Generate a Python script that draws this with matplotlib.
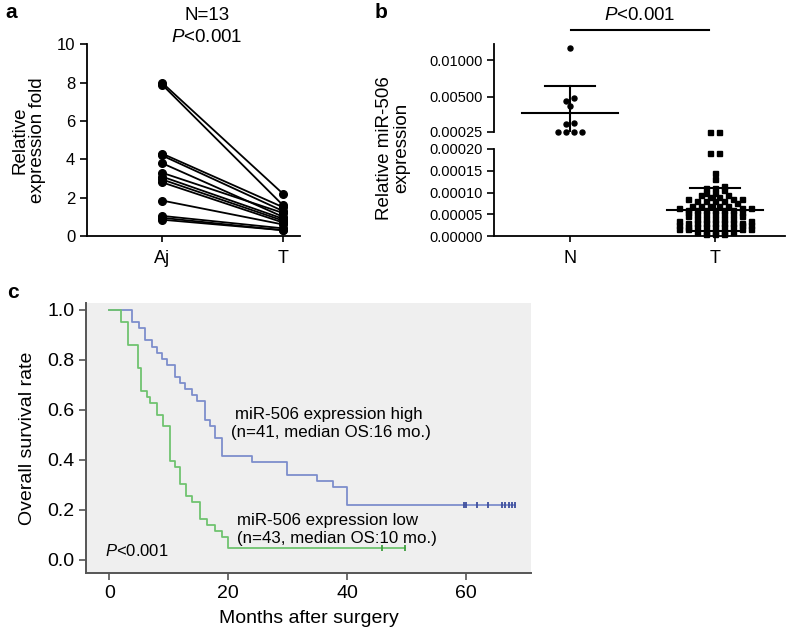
import numpy as np
import matplotlib
matplotlib.use('Agg')
import matplotlib.pyplot as plt

plt.rcParams['font.family'] = ['Liberation Sans', 'DejaVu Sans']
plt.rcParams['mathtext.fontset'] = 'custom'
plt.rcParams['mathtext.it'] = 'Liberation Sans:italic'
plt.rcParams['mathtext.rm'] = 'Liberation Sans'

# ---------------- Panel a data ----------------
pair_groups = ['Aj', 'T']
aj_values = [8.0, 7.9, 4.3, 4.2, 3.8, 3.3, 3.1, 2.95, 2.8, 1.85, 1.05, 0.95, 0.85]
t_values_a = [2.2, 1.6, 1.5, 1.3, 1.0, 1.2, 0.9, 0.8, 0.7, 0.6, 0.4, 0.3, 0.3]
a_yticks = [0, 2, 4, 6, 8, 10]

# ---------------- Panel b data ----------------
b_groups = ['N', 'T']
n_expr = [0.01167, 0.0048, 0.0045, 0.0038, 0.0015, 0.0013, 0.0003, 0.0003, 0.0003, 0.0003]
t_expr_e5 = [25, 25, 19, 19, 14.5, 13,
             11.5, 11, 11, 10.5,
             10, 10, 9.5, 9.5, 9, 9,
             8.5, 8.5, 8.5, 8, 8, 8, 8, 7.5,
             7, 7, 7, 7, 7, 6.5, 6.5, 6.5,
             6, 6, 6, 6, 6, 6, 5.5, 5.5,
             5, 5, 5, 5, 5, 4.5, 4.5,
             4, 4, 4, 4, 4, 3.5, 3.5,
             3, 3, 3, 3, 3, 3, 3, 2.5, 2.5, 2.5,
             2, 2, 2, 2, 2, 2, 1.5, 1.5, 1.5, 1.5,
             1, 1, 1, 1, 1, 0.5, 0.5, 0.5]
t_expr = [v * 1e-5 for v in t_expr_e5]
b_upper_ticks = [0.00025, 0.005, 0.01]
b_upper_labels = ['0.00025', '0.00500', '0.01000']
b_lower_ticks = [0.0, 0.00005, 0.0001, 0.00015, 0.0002]
b_lower_labels = ['0.00000', '0.00005', '0.00010', '0.00015', '0.00020']

# ---------------- Panel c data ----------------
high_times = [3.8, 3.8, 5.0, 6.1, 6.1, 7.2, 8.0, 8.9, 9.7, 11.1, 11.1, 11.9, 12.8,
              13.9, 14.7, 16.1, 16.1, 16.1, 17.0, 17.8, 17.8, 18.9, 18.9, 18.9,
              24.0, 29.9, 29.9, 34.9, 37.7, 40.0, 40.0, 40.0,
              59.7, 60.0, 61.8, 63.7, 66.0, 66.6, 67.2, 67.7, 68.2]
high_events = [1] * 32 + [0] * 9
low_times = [2.0, 2.0, 3.1, 3.1, 3.1, 3.1, 4.9, 4.9, 4.9, 4.9, 5.3, 5.3, 5.3, 5.3,
             6.3, 6.8, 8.0, 8.0, 9.1, 9.1, 10.2, 10.2, 10.2, 10.2, 10.2, 10.2,
             11.0, 11.9, 11.9, 11.9, 12.9, 12.9, 13.9, 15.3, 15.3, 15.3, 16.4,
             17.8, 18.9, 20.0, 20.0,
             45.8, 49.8]
low_events = [1] * 41 + [0] * 2
c_xticks = [0, 20, 40, 60]
c_yticks = [0.0, 0.2, 0.4, 0.6, 0.8, 1.0]

W, H = 790, 635
fig = plt.figure(figsize=(7.9, 6.35), dpi=100)


def rect(l, t, r, b):
    return [l / W, 1 - b / H, (r - l) / W, (b - t) / H]


# ======== Panel a ========
axa = fig.add_axes(rect(87, 44.3, 300, 236))
for a, t in zip(aj_values, t_values_a):
    axa.plot([0, 1], [a, t], color='black', lw=1.3, marker='o', ms=5.5,
             clip_on=False, zorder=3)
axa.set_xlim(-0.62, 1.14)
axa.set_ylim(0, 10)
axa.set_yticks(a_yticks)
axa.set_xticks([0, 1])
axa.set_xticklabels(pair_groups, fontsize=13)
axa.tick_params(axis='y', labelsize=12, length=5, width=1.2)
axa.tick_params(axis='x', length=4, width=1.2, pad=6)
for s in ['top', 'right']:
    axa.spines[s].set_visible(False)
for s in ['left', 'bottom']:
    axa.spines[s].set_linewidth(1.3)
axa.set_ylabel('Relative\nexpression fold', fontsize=13.5, labelpad=8, linespacing=1.0)
fig.text(207 / W, 1 - 16 / H, 'N=13', ha='center', va='center', fontsize=13.5)
fig.text(207 / W, 1 - 38 / H, '$P$<0.001', ha='center', va='center', fontsize=13.5)
fig.text(5 / W, 1 - 12 / H, 'a', fontsize=15, fontweight='bold', va='center')

# ======== Panel b ========
axl = fig.add_axes(rect(494, 149, 785, 236))
axu = fig.add_axes(rect(494, 44, 785, 132))
xl = (-0.524, 1.483)
axl.set_xlim(*xl)
axu.set_xlim(*xl)
axl.set_ylim(0, 0.0002)
axu.set_ylim(0.00025, 0.00025 + 0.00975 * 88 / 72)
for ax in (axl, axu):
    for s in ['top', 'right']:
        ax.spines[s].set_visible(False)
    ax.spines['left'].set_linewidth(1.3)
    ax.patch.set_alpha(0)
axu.spines['bottom'].set_visible(False)
axu.set_xticks([])
axl.spines['bottom'].set_linewidth(1.3)
axl.set_yticks(b_lower_ticks)
axl.set_yticklabels(b_lower_labels)
axu.set_yticks(b_upper_ticks)
axu.set_yticklabels(b_upper_labels)
axl.set_xticks([0, 1])
axl.set_xticklabels(b_groups, fontsize=13)
axl.tick_params(axis='x', length=4, width=1.2, pad=6)
for ax in (axl, axu):
    ax.tick_params(axis='y', labelsize=10.5, length=5, width=1.2, pad=3)

split = 0.0002


def pix_y(v):
    ax = axu if v > split else axl
    return ax.transData.transform((0, v))[1]


px_per_unit = axl.transData.transform((1, 0))[0] - axl.transData.transform((0, 0))[0]


def row_swarm(values, center, base_val, row_px, d):
    ys = np.array([pix_y(v) for v in values])
    base = pix_y(base_val)
    rows = np.floor((ys - base) / row_px + 1e-6).astype(int)
    xs = np.zeros(len(values))
    for r in np.unique(rows):
        idx = np.where(rows == r)[0]
        idx = idx[np.argsort(ys[idx])]
        k = len(idx)
        offs = (np.arange(k) - (k - 1) / 2.0) * d
        # interleave so neighbours in value alternate sides
        order = np.argsort(np.abs(offs), kind='stable')
        xs[idx] = center + offs[order] / px_per_unit
    return xs


def draw_group(values, center, marker, base_val, row_px, d):
    vals = np.asarray(values)
    xs = row_swarm(vals, center, base_val, row_px, d)
    for x, v in zip(xs, vals):
        ax = axu if v > split else axl
        ax.plot(x, v, marker=marker, color='black', ms=3.6, clip_on=False,
                ls='none', zorder=3)
    return vals.mean(), vals.std(ddof=1)


mN, sN = draw_group(n_expr, 0, 'o', 0.00025, 5.0, 8.3)
mT, sT = draw_group(t_expr, 1, 's', 0.0, 87 * 1e-5 / 0.0002, 9.0)

for ax, m, s, c in ((axu, mN, sN, 0), (axl, mT, sT, 1)):
    ax.plot([c - 0.33, c + 0.33], [m, m], color='black', lw=1.5, zorder=4)
    ax.plot([c, c], [m - s, m + s], color='black', lw=1.5, zorder=4)
    ax.plot([c - 0.17, c + 0.17], [m + s, m + s], color='black', lw=1.5, zorder=4)
    ax.plot([c - 0.17, c + 0.17], [m - s, m - s], color='black', lw=1.5, zorder=4)

ybar = 0.00025 + (132 - 30) / 72 * 0.00975
axu.plot([0.01, 0.96], [ybar, ybar], color='black', lw=1.5, clip_on=False)
fig.text(640 / W, 1 - 15 / H, '$P$<0.001', ha='center', va='center', fontsize=13.5)
fig.text(393 / W, 1 - 148 / H, 'Relative miR-506\nexpression', rotation=90,
         ha='center', va='center', fontsize=13.5, linespacing=1.0)
fig.text(375 / W, 1 - 12 / H, 'b', fontsize=15, fontweight='bold', va='center')

# ======== Panel c ========
axc = fig.add_axes(rect(86, 303, 531, 573))
axc.set_facecolor('#efefef')
axc.set_xlim(-3.9, 70.9)
axc.set_ylim(-0.052, 1.028)
for s in ['top', 'right']:
    axc.spines[s].set_visible(False)
for s in ['left', 'bottom']:
    axc.spines[s].set_color('#555555')
    axc.spines[s].set_linewidth(1.4)
axc.set_xticks(c_xticks)
axc.set_yticks(c_yticks)
axc.set_yticklabels(['%.1f' % v for v in c_yticks])
axc.tick_params(labelsize=14, length=5, width=1.2, color='#555555')
axc.set_xlabel('Months after surgery', fontsize=14, labelpad=6)
axc.set_ylabel('Overall survival rate', fontsize=14, labelpad=8)


def km(times, events):
    t = np.asarray(times, float)
    e = np.asarray(events)
    ut = np.unique(t[e == 1])
    s = 1.0
    xs, ys = [0.0], [1.0]
    for u in ut:
        n = np.sum(t >= u)
        d = np.sum((t == u) & (e == 1))
        s *= 1 - d / n
        xs.append(u)
        ys.append(s)
    xs.append(t.max())
    ys.append(s)
    cx = t[e == 0]
    cy = [ys[np.searchsorted(xs[1:-1], c, side='right')] for c in cx]
    return xs, ys, cx, cy


for times, events, col, mcol in ((high_times, high_events, '#7d8ecc', '#3e4f9e'),
                                 (low_times, low_events, '#70c370', '#3f9f3f')):
    xs, ys, cx, cy = km(times, events)
    axc.plot(xs, ys, drawstyle='steps-post', color=col, lw=1.3)
    axc.plot(cx, cy, ls='none', marker='|', color=mcol, ms=4, mew=1.3)

fig.text(235 / W, 1 - 415 / H, 'miR-506 expression high', fontsize=12.2, va='center')
fig.text(231 / W, 1 - 433 / H, '(n=41, median OS:16 mo.)', fontsize=12.2, va='center')
fig.text(237 / W, 1 - 520 / H, 'miR-506 expression low', fontsize=12.2, va='center')
fig.text(237 / W, 1 - 538 / H, '(n=43, median OS:10 mo.)', fontsize=12.2, va='center')
fig.text(105 / W, 1 - 551 / H, '$P$<0.001', fontsize=12, va='center')
fig.text(7 / W, 1 - 293 / H, 'c', fontsize=15, fontweight='bold', va='center')

fig.savefig('out.png', dpi=100)
